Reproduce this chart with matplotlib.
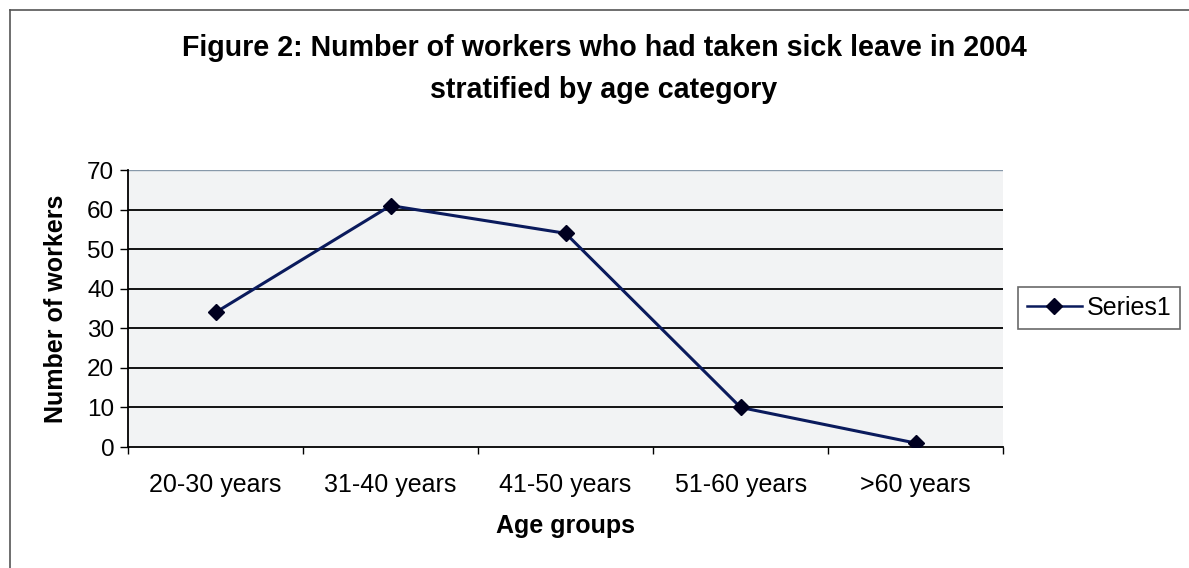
import matplotlib
matplotlib.use("Agg")
import matplotlib.pyplot as plt
from matplotlib.lines import Line2D

plt.rcParams['font.family'] = ['Liberation Sans', 'DejaVu Sans']

age_groups = ["20-30 years", "31-40 years", "41-50 years", "51-60 years", ">60 years"]
workers = [34, 61, 54, 10, 1]
y_ticks = [0, 10, 20, 30, 40, 50, 60, 70]

fig = plt.figure(figsize=(11.89, 5.68), dpi=100)
ax = fig.add_axes([0.1077, 0.213, 0.736, 0.4877])

x = list(range(len(age_groups)))
ax.plot(x, workers, color="#0a1a5c", linewidth=2.2, marker="D", markersize=8,
        markerfacecolor="#000020", markeredgecolor="#000020", zorder=3,
        label="Series1")

ax.set_facecolor("#f2f3f4")
ax.set_xlim(-0.5, len(age_groups) - 0.5)
ax.set_ylim(0, 70)
ax.set_yticks(y_ticks)
for v in y_ticks[1:-1]:
    ax.axhline(v, color="black", linewidth=1.3, zorder=1)
ax.axhline(70, color="#8899aa", linewidth=1.0, zorder=1)

# category ticks sit between the groups, labels centred under each group
ax.set_xticks([i - 0.5 for i in range(len(age_groups) + 1)])
ax.set_xticklabels([])
ax.set_xticks(x, minor=True)
ax.set_xticklabels(age_groups, minor=True, fontsize=18)
ax.tick_params(axis="x", which="minor", length=0, pad=19)
ax.tick_params(axis="x", which="major", length=5, width=1, direction="out")
ax.tick_params(axis="y", labelsize=17.5, length=6, width=1, direction="out", pad=4)

for side in ["top", "right"]:
    ax.spines[side].set_visible(False)
ax.spines["left"].set_linewidth(1.3)
ax.spines["bottom"].set_linewidth(1.3)

ax.set_xlabel("Age groups", fontsize=18, fontweight="bold", labelpad=12)
ax.set_ylabel("Number of workers", fontsize=18, fontweight="bold", labelpad=14)

fig.text(0.508, 0.915, "Figure 2: Number of workers who had taken sick leave in 2004",
         ha="center", va="center", fontsize=20.6, fontweight="bold")
fig.text(0.508, 0.842, "stratified by age category",
         ha="center", va="center", fontsize=20.6, fontweight="bold")

handle = Line2D([], [], color="#0a1a5c", linewidth=1.8, marker="D", markersize=8,
                markerfacecolor="#000020", markeredgecolor="#000020")
leg = fig.legend([handle], ["Series1"], loc="center left",
                 bbox_to_anchor=(0.856, 0.458), borderaxespad=0, fontsize=18,
                 frameon=True, fancybox=False, edgecolor="#444444",
                 handlelength=2.2, borderpad=0.35, handletextpad=0.2)
leg.get_frame().set_linewidth(1.2)

# outer chart border (left and top edges visible in the scan)
fig.add_artist(Line2D([0.008, 0.008], [0.0, 0.982], transform=fig.transFigure,
                      color="#555555", linewidth=1.2))
fig.add_artist(Line2D([0.008, 1.0], [0.982, 0.982], transform=fig.transFigure,
                      color="#555555", linewidth=1.2))

fig.savefig("out.png", dpi=100)
